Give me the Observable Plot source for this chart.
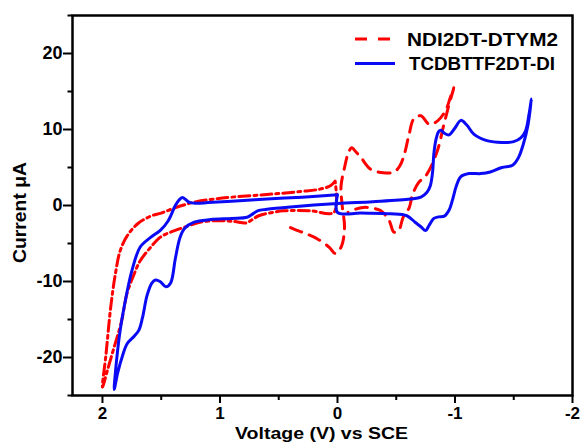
<!DOCTYPE html>
<html><head><meta charset="utf-8">
<script src="https://cdn.jsdelivr.net/npm/d3@7"></script>
<script src="https://cdn.jsdelivr.net/npm/@observablehq/plot@0.6"></script>
<style>
body{margin:0;background:#fff;}
#wrap{position:relative;width:581px;height:447px;}
#wrap svg text{font-weight:bold;}
</style></head><body><div id="wrap"></div>
<script>
// ---- data ----
const xDomain = [2.255, -2];
const yDomain = [-25, 25];
const xMajorTicks = [2, 1, 0, -1, -2];
const xMinorTicks = [1.5, 0.5, -0.5, -1.5];
const yMajorTicks = [-20, -10, 0, 10, 20];
const yMinorTicks = [-25, -15, -5, 5, 15, 25];
const seriesNames = ["NDI2DT-DTYM2", "TCDBTTF2DT-DI"];
const xLabel = "Voltage (V) vs SCE";
const yLabel = "Current \u03bcA";

// TCDBTTF2DT-DI (blue, solid)
const blueV = [0.00,0.30,0.60,0.90,1.10,1.20,1.26,1.29,1.32,1.35,1.38,1.44,1.51,1.59,1.68,1.75,1.80,1.85,1.89,1.90,
  1.87,1.83,1.79,1.73,1.69,1.66,1.62,1.58,1.55,1.51,1.46,1.42,1.38,1.34,1.30,1.22,1.08,0.90,0.77,0.73,0.68,0.60,0.40,0.00,
  -0.30,-0.62,-0.71,-0.76,-0.79,-0.81,-0.82,-0.84,-0.86,-0.88,-0.91,-0.95,-1.00,-1.05,-1.10,-1.16,-1.28,-1.40,-1.50,-1.56,-1.60,-1.63,-1.65,
  -1.62,-1.58,-1.54,-1.49,-1.40,-1.30,-1.22,-1.12,-1.05,-1.01,-0.98,-0.95,-0.91,-0.86,-0.82,-0.78,-0.75,-0.71,-0.66,-0.59,-0.45,-0.20,0.00,0.00];
const blueI = [1.40,1.10,0.85,0.55,0.38,0.30,0.40,0.75,1.05,0.70,0.00,-2.00,-3.30,-4.20,-5.50,-8.60,-12.10,-16.50,-22.00,-24.20,
  -22.00,-19.80,-18.20,-17.20,-16.40,-14.80,-11.80,-10.20,-9.80,-10.00,-10.70,-10.20,-7.00,-4.20,-3.00,-2.20,-1.85,-1.70,-1.55,-1.20,-0.70,-0.50,-0.20,0.26,
  0.50,0.85,1.10,1.70,2.60,4.50,6.80,8.80,9.70,9.90,9.50,9.30,10.20,11.20,10.60,9.40,8.50,8.30,8.40,8.90,9.80,12.00,14.00,
  10.50,8.00,6.30,5.30,5.00,4.40,4.20,4.20,3.80,2.50,0.80,-0.60,-1.40,-1.50,-1.70,-2.60,-3.30,-2.80,-2.20,-1.35,-1.10,-1.00,-0.90,1.40];

// NDI2DT-DTYM2, positive sweep (red, dash-dot)
const redPosV = [0.02,0.06,0.15,0.31,0.60,0.90,1.05,1.20,1.30,1.40,1.50,1.59,1.70,1.79,1.85,1.89,1.93,1.97,2.00,
  1.96,1.90,1.84,1.79,1.73,1.68,1.59,1.51,1.42,1.31,1.17,1.00,0.88,0.78,0.73,0.67,0.55,0.46,0.23,0.03,0.02];
const redPosI = [3.20,2.60,2.15,1.85,1.45,1.10,0.85,0.50,0.10,-0.40,-1.00,-1.40,-2.40,-4.00,-6.00,-9.00,-13.40,-19.60,-23.90,
  -21.80,-18.60,-15.40,-11.50,-9.00,-7.30,-5.50,-4.20,-3.50,-2.90,-2.20,-2.00,-2.10,-2.30,-1.90,-1.35,-0.90,-0.70,-0.70,-0.90,3.20];

// NDI2DT-DTYM2, negative sweep (red, dashed)
const redNegV = [0.40,0.37,0.27,0.17,0.07,0.02,-0.03,-0.06,-0.04,-0.03,-0.06,-0.09,-0.12,-0.16,-0.20,-0.28,-0.39,-0.48,-0.53,-0.57,-0.61,-0.65,-0.71,-0.78,-0.85,-0.92,-0.96,-0.99,
  -0.95,-0.90,-0.85,-0.76,-0.69,-0.64,-0.61,-0.56,-0.52,-0.48,-0.44,-0.37,-0.28,-0.22,-0.15,-0.09];
const redNegI = [-2.90,-3.10,-3.70,-4.40,-5.50,-6.30,-5.50,-3.00,0.00,2.50,5.00,6.80,7.60,7.00,6.30,4.80,4.30,4.40,5.20,6.80,9.40,11.40,11.80,10.70,11.10,12.50,14.20,15.50,
  13.30,10.30,7.20,4.10,3.00,1.50,-0.30,-1.50,-3.30,-3.50,-2.00,-0.70,-0.30,-0.26,-0.50,-0.90];

const RED = "#ff0000", BLUE = "#0a0af5";
const FONT = "'Liberation Sans', Arial, Helvetica, sans-serif";

const toRows = (V, I) => V.map((v, k) => ({v, c: I[k]}));

const chart = Plot.plot({
  width: 581, height: 447,
  marginLeft: 72, marginRight: 9, marginTop: 15, marginBottom: 52,
  style: {fontFamily: FONT, fontSize: "18px", background: "white", color: "black", overflow: "visible"},
  x: {domain: xDomain},
  y: {domain: yDomain},
  marks: [
    Plot.line(toRows(redPosV, redPosI), {x: "v", y: "c", stroke: RED, strokeWidth: 3, strokeDasharray: "11,4,3,4", curve: "catmull-rom"}),
    Plot.line(toRows(redNegV, redNegI), {x: "v", y: "c", stroke: RED, strokeWidth: 3, strokeDasharray: "12,8", curve: "catmull-rom"}),
    Plot.line(toRows(blueV, blueI), {x: "v", y: "c", stroke: BLUE, strokeWidth: 3, curve: "catmull-rom"}),
    Plot.frame({stroke: "black", strokeWidth: 2.5}),
    Plot.axisX({ticks: xMajorTicks, tickSize: 8, tickPadding: 3, strokeWidth: 2, tickFormat: d => String(d), label: null, fontSize: 17}),
    Plot.axisX({ticks: xMinorTicks, tickSize: 5, strokeWidth: 2, tickFormat: () => "", label: null}),
    Plot.axisY({ticks: yMajorTicks, tickSize: 9, tickPadding: 1, strokeWidth: 2, tickFormat: d => String(d), label: null, fontSize: 18}),
    Plot.axisY({ticks: yMinorTicks, tickSize: 4.5, strokeWidth: 2, tickFormat: () => "", label: null})
  ]
});

document.getElementById("wrap").appendChild(chart);

const svg = d3.select(chart);
const xs = chart.scale("x"), ys = chart.scale("y");
const x1 = xs.apply(xDomain[1]);
const yTop = ys.apply(yDomain[1]), yBot = ys.apply(yDomain[0]);

// axis titles
svg.append("text")
  .attr("x", 235).attr("y", yBot + 44).attr("text-anchor", "start")
  .attr("textLength", 173).attr("lengthAdjust", "spacingAndGlyphs")
  .attr("font-size", 17).attr("font-weight", "bold").attr("fill", "black")
  .text(xLabel);
svg.append("text")
  .attr("transform", `translate(26, ${(yTop + yBot) / 2 + 58}) rotate(-90)`).attr("text-anchor", "start")
  .attr("textLength", 101).attr("lengthAdjust", "spacingAndGlyphs")
  .attr("font-size", 19).attr("font-weight", "bold").attr("fill", "black")
  .text(yLabel);

// legend
const lg = svg.append("g").attr("transform", `translate(${x1 - 217}, ${yTop + 24})`);
lg.append("line").attr("x1", 0).attr("x2", 35).attr("y1", 0).attr("y2", 0)
  .attr("stroke", RED).attr("stroke-width", 3).attr("stroke-dasharray", "12,11");
lg.append("text").attr("x", 52).attr("y", 6.5).attr("text-anchor", "start")
  .attr("textLength", 151).attr("lengthAdjust", "spacingAndGlyphs")
  .attr("font-size", 19).attr("font-weight", "bold").attr("fill", "black").text(seriesNames[0]);
lg.append("line").attr("x1", 0).attr("x2", 40).attr("y1", 24.5).attr("y2", 24.5)
  .attr("stroke", BLUE).attr("stroke-width", 3);
lg.append("text").attr("x", 54).attr("y", 30.5).attr("text-anchor", "start")
  .attr("textLength", 146).attr("lengthAdjust", "spacingAndGlyphs")
  .attr("font-size", 19).attr("font-weight", "bold").attr("fill", "black").text(seriesNames[1]);
</script></body></html>
